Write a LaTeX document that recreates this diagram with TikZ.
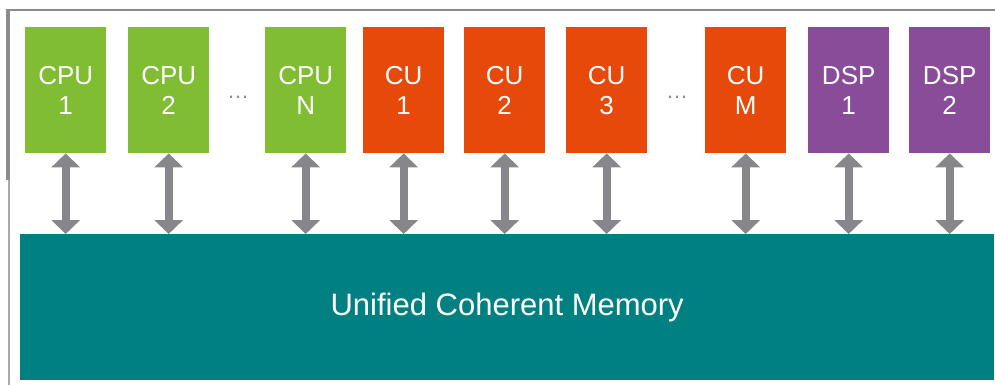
\documentclass[tikz,border=0pt]{standalone}
\usepackage{fontspec}
\setmainfont{Liberation Sans}
\usetikzlibrary{arrows.meta}
\definecolor{cpugreen}{HTML}{80BD33}
\definecolor{cuorange}{HTML}{E7490B}
\definecolor{dsppurple}{HTML}{894C98}
\definecolor{memteal}{HTML}{008080}
\definecolor{arrowgray}{HTML}{87878B}
\definecolor{framegray}{HTML}{8C8C8C}
\tikzset{
  unitbox/.style={minimum width=81pt, minimum height=126pt, inner sep=0pt,
    text=white, align=center, font=\fontsize{26}{30}\selectfont, anchor=north west},
  cpubox/.style={unitbox, fill=cpugreen},
  cubox/.style={unitbox, fill=cuorange},
  dspbox/.style={unitbox, fill=dsppurple},
  membox/.style={fill=memteal, text=white, inner sep=0pt, font=\fontsize{31}{36}\selectfont},
  ellip/.style={text=framegray, inner sep=0pt, font=\fontsize{22}{24}\selectfont},
  link/.style={arrowgray, line width=8pt,
    {Triangle[width=28pt,length=14pt]}-{Triangle[width=28pt,length=14pt]}},
  framebar/.style={framegray, line width=2pt}
}
\begin{document}
\begin{tikzpicture}[x=1pt,y=-1pt]
\useasboundingbox (0,0) rectangle (995,385);
% frame
\draw[framebar] (7,10) -- (995,10);
\draw[framegray, line width=3.5pt] (8,9) -- (8,180);
\draw[framegray!75, line width=2pt] (8.5,180) -- (8.5,385);
% units
\node[cpubox] (cpu1) at (25,27) {CPU\\1};
\node[cpubox] (cpu2) at (128,27) {CPU\\2};
\node[cpubox] (cpuN) at (265,27) {CPU\\N};
\node[cubox] (cu1) at (363,27) {CU\\1};
\node[cubox] (cu2) at (464,27) {CU\\2};
\node[cubox] (cu3) at (566,27) {CU\\3};
\node[cubox] (cuM) at (705,27) {CU\\M};
\node[dspbox] (dsp1) at (808,27) {DSP\\1};
\node[dspbox] (dsp2) at (909,27) {DSP\\2};
\node[ellip] (dotsA) at (238,97) {…};
\node[ellip] (dotsB) at (677,97) {…};
% memory
\node[membox, minimum width=974pt, minimum height=146pt, anchor=north west] (mem) at (20,234) {Unified Coherent Memory};
% links
\foreach \u in {cpu1,cpu2,cpuN,cu1,cu2,cu3,cuM,dsp1,dsp2}{
  \draw[link] (\u.south) -- (\u.south |- mem.north);
}
\end{tikzpicture}
\end{document}
